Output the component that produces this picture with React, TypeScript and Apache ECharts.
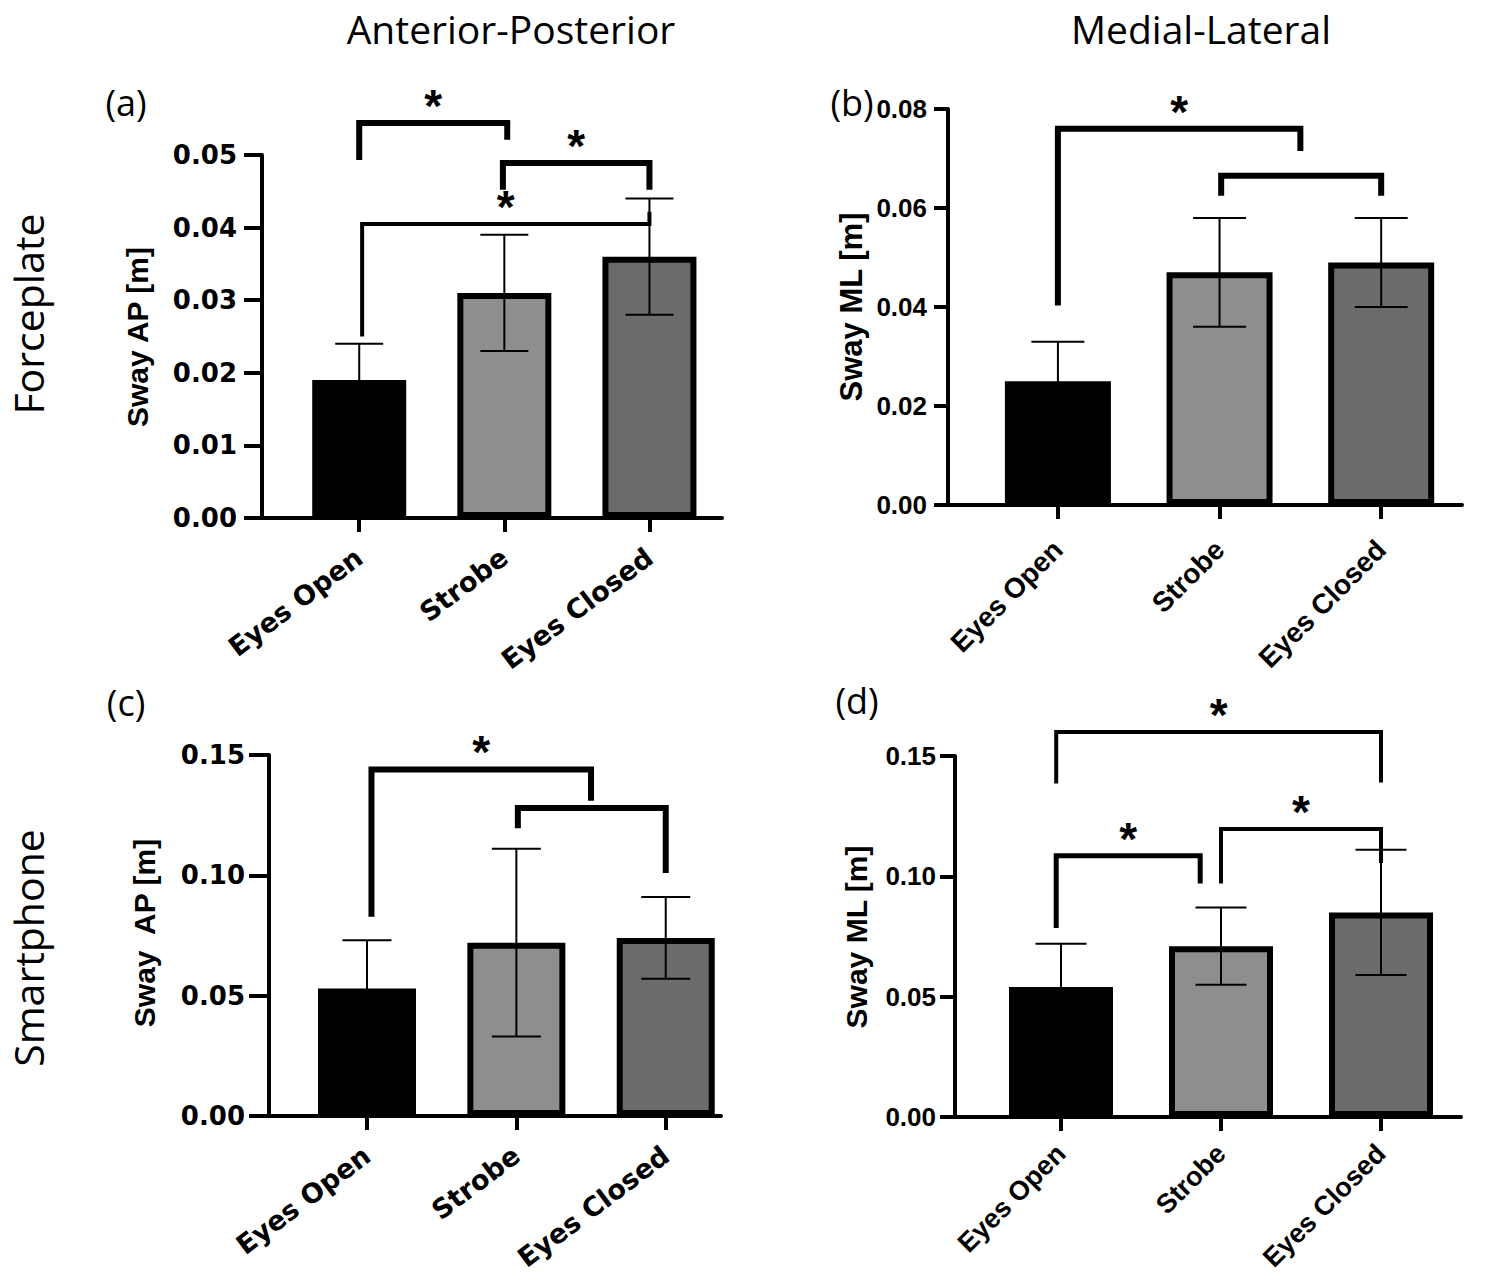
import React, { useEffect, useRef } from 'react';
import * as echarts from 'echarts';

// ---------- data ----------
const categories = ['Eyes Open', 'Strobe', 'Eyes Closed'];

const apForceMean = [0.019, 0.031, 0.036];
const apForceLow = [0.014, 0.023, 0.028];
const apForceHigh = [0.024, 0.039, 0.044];

const mlForceMean = [0.025, 0.047, 0.049];
const mlForceLow = [0.017, 0.036, 0.04];
const mlForceHigh = [0.033, 0.058, 0.058];

const apPhoneMean = [0.053, 0.072, 0.074];
const apPhoneLow = [0.033, 0.033, 0.057];
const apPhoneHigh = [0.073, 0.111, 0.091];

const mlPhoneMean = [0.054, 0.071, 0.085];
const mlPhoneLow = [0.036, 0.055, 0.059];
const mlPhoneHigh = [0.072, 0.087, 0.111];

// brackets: [xLeft, xRight, yTop, yLeftEnd, yRightEnd, star(1/0)]
const apForceBrackets = [
  [0, 1.02, 0.0544, 0.0493, 0.0521, 1],
  [0.99, 2.0, 0.0489, 0.0452, 0.0452, 1],
  [0.02, 2.0, 0.0405, 0.025, 0.0422, 1],
];
const mlForceBrackets = [
  [0, 1.5, 0.076, 0.0403, 0.0715, 1],
  [1.01, 2.0, 0.0665, 0.0625, 0.0625, 0],
];
const apPhoneBrackets = [
  [0.03, 1.5, 0.144, 0.0828, 0.131, 1],
  [1.01, 2.0, 0.128, 0.1196, 0.101, 0],
];
const mlPhoneBrackets = [
  [-0.03, 2.0, 0.16, 0.1386, 0.139, 1],
  [-0.03, 0.87, 0.1086, 0.0785, 0.097, 1],
  [1.0, 2.0, 0.1197, 0.097, 0.1055, 1],
];

// ---------- styling / layout ----------
const fills = ['#000000', '#8e8e8e', '#6b6b6b'];

const panels = [
  {
    mean: apForceMean, low: apForceLow, high: apForceHigh, brackets: apForceBrackets,
    yMax: 0.05, yInterval: 0.01,
    grid: { left: 262, top: 155, width: 460, height: 363 },
    xMin: -0.67, xMax: 2.5, barWidth: 94, cap: 48, tickLen: 18, labelMargin: 25,
    tickFamily: 'DejaVu Sans', tickSize: 26, catFamily: 'DejaVu Sans', catSize: 27, catRotate: 37, catMargin: 36,
    bracketWidths: [6, 6, 4],
  },
  {
    mean: mlForceMean, low: mlForceLow, high: mlForceHigh, brackets: mlForceBrackets,
    yMax: 0.08, yInterval: 0.02,
    grid: { left: 948, top: 109, width: 514, height: 396 },
    xMin: -0.68, xMax: 2.5, barWidth: 106, cap: 53, tickLen: 14, labelMargin: 21,
    tickFamily: 'Liberation Sans', tickSize: 26, catFamily: 'Liberation Sans', catSize: 28, catRotate: 45, catMargin: 40,
    bracketWidths: [6, 6],
  },
  {
    mean: apPhoneMean, low: apPhoneLow, high: apPhoneHigh, brackets: apPhoneBrackets,
    yMax: 0.15, yInterval: 0.05,
    grid: { left: 269, top: 755, width: 452, height: 361 },
    xMin: -0.656, xMax: 2.37, barWidth: 98, cap: 49, tickLen: 20, labelMargin: 24,
    tickFamily: 'DejaVu Sans', tickSize: 26, catFamily: 'DejaVu Sans', catSize: 27, catRotate: 37, catMargin: 36,
    bracketWidths: [6, 6],
  },
  {
    mean: mlPhoneMean, low: mlPhoneLow, high: mlPhoneHigh, brackets: mlPhoneBrackets,
    yMax: 0.15, yInterval: 0.05,
    grid: { left: 955, top: 756, width: 506, height: 361 },
    xMin: -0.6625, xMax: 2.5, barWidth: 104, cap: 51, tickLen: 15, labelMargin: 19,
    tickFamily: 'Liberation Sans', tickSize: 26, catFamily: 'Liberation Sans', catSize: 27, catRotate: 45, catMargin: 32,
    bracketWidths: [4, 5, 4],
  },
];

const texts = [
  { t: 'Anterior-Posterior', x: 511, y: 28, size: 39, rot: 0, bold: false, fam: 'Open Sans' },
  { t: 'Medial-Lateral', x: 1201, y: 28, size: 39, rot: 0, bold: false, fam: 'Open Sans' },
  { t: 'Forceplate', x: 28, y: 314, size: 41, rot: 90, bold: false, fam: 'Open Sans' },
  { t: 'Smartphone', x: 28, y: 948, size: 41, rot: 90, bold: false, fam: 'Open Sans' },
  { t: '(a)', x: 126, y: 102, size: 36, rot: 0, bold: false, fam: 'Open Sans' },
  { t: '(b)', x: 852, y: 102, size: 36, rot: 0, bold: false, fam: 'Open Sans' },
  { t: '(c)', x: 126, y: 702, size: 36, rot: 0, bold: false, fam: 'Open Sans' },
  { t: '(d)', x: 857, y: 700, size: 36, rot: 0, bold: false, fam: 'Open Sans' },
  { t: 'Sway AP [m]', x: 137, y: 337, size: 30, rot: 90, bold: true, fam: 'Liberation Sans' },
  { t: 'Sway ML [m]', x: 851, y: 307, size: 31, rot: 90, bold: true, fam: 'Liberation Sans' },
  { t: 'Sway  AP [m]', x: 144, y: 933, size: 30, rot: 90, bold: true, fam: 'Liberation Sans' },
  { t: 'Sway ML [m]', x: 856, y: 937, size: 30, rot: 90, bold: true, fam: 'Liberation Sans' },
];

function buildOption() {
  const grid: any[] = [];
  const xAxis: any[] = [];
  const yAxis: any[] = [];
  const series: any[] = [];

  panels.forEach((p, i) => {
    grid.push({ ...p.grid, containLabel: false, outerBoundsMode: 'none' });
    xAxis.push({
      gridIndex: i,
      type: 'value',
      min: p.xMin,
      max: p.xMax,
      splitLine: { show: false },
      axisLine: { show: true, onZero: false, lineStyle: { color: '#000', width: 4 } },
      axisTick: { show: true, customValues: [0, 1, 2], length: 14, lineStyle: { color: '#000', width: 4 } },
      axisLabel: {
        show: true,
        customValues: [0, 1, 2],
        formatter: (v: number) => categories[Math.round(v)] ?? '',
        rotate: p.catRotate,
        margin: p.catMargin,
        fontSize: p.catSize,
        fontFamily: p.catFamily,
        fontWeight: 'bold',
        color: '#000',
      },
    });
    yAxis.push({
      gridIndex: i,
      type: 'value',
      min: 0,
      max: p.yMax,
      interval: p.yInterval,
      splitLine: { show: false },
      axisLine: { show: true, onZero: false, lineStyle: { color: '#000', width: 4 } },
      axisTick: { show: true, length: p.tickLen, lineStyle: { color: '#000', width: 4 } },
      axisLabel: {
        formatter: (v: number) => v.toFixed(2),
        margin: p.labelMargin,
        fontSize: p.tickSize,
        fontFamily: p.tickFamily,
        fontWeight: 'bold',
        color: '#000',
      },
    });

    series.push({
      type: 'bar',
      xAxisIndex: i,
      yAxisIndex: i,
      barWidth: p.barWidth,
      data: p.mean.map((v, j) => ({
        value: [j, v],
        itemStyle: { color: fills[j], borderColor: '#000', borderWidth: 6 },
      })),
      z: 2,
    });

    const cap = p.cap;
    series.push({
      type: 'custom',
      xAxisIndex: i,
      yAxisIndex: i,
      clip: false,
      z: 5,
      data: p.mean.map((_, j) => [j, p.low[j], p.high[j]]),
      renderItem: (params: any, api: any) => {
        const x = api.value(0);
        const lo = api.coord([x, api.value(1)]);
        const hi = api.coord([x, api.value(2)]);
        const st = { stroke: '#000', lineWidth: 2 };
        return {
          type: 'group',
          children: [
            { type: 'line', shape: { x1: lo[0], y1: lo[1], x2: hi[0], y2: hi[1] }, style: st },
            { type: 'line', shape: { x1: hi[0] - cap / 2, y1: hi[1], x2: hi[0] + cap / 2, y2: hi[1] }, style: st },
            { type: 'line', shape: { x1: lo[0] - cap / 2, y1: lo[1], x2: lo[0] + cap / 2, y2: lo[1] }, style: st },
          ],
        };
      },
    });

    const widths = p.bracketWidths;
    series.push({
      type: 'custom',
      xAxisIndex: i,
      yAxisIndex: i,
      clip: false,
      z: 6,
      encode: { x: [0, 1], y: [2, 3, 4] },
      data: p.brackets.map((b) => b.slice()),
      renderItem: (params: any, api: any) => {
        const xL = api.value(0);
        const xR = api.value(1);
        const yT = api.value(2);
        const pL = api.coord([xL, api.value(3)]);
        const pLT = api.coord([xL, yT]);
        const pRT = api.coord([xR, yT]);
        const pR = api.coord([xR, api.value(4)]);
        const children: any[] = [
          {
            type: 'polyline',
            shape: { points: [pL, pLT, pRT, pR] },
            style: { stroke: '#000', lineWidth: widths[params.dataIndex] || 5, fill: null, lineJoin: 'miter', lineCap: 'butt' },
          },
        ];
        if (api.value(5)) {
          children.push({
            type: 'text',
            x: (pLT[0] + pRT[0]) / 2,
            y: pLT[1] - 17,
            style: {
              text: '*',
              fontSize: 46,
              fontWeight: 'bold',
              fontFamily: 'Liberation Sans',
              fill: '#000',
              align: 'center',
              verticalAlign: 'middle',
            },
          });
        }
        return { type: 'group', children };
      },
    });
  });

  const graphic = texts.map((t) => ({
    type: 'text',
    x: t.x,
    y: t.y,
    rotation: (t.rot * Math.PI) / 180,
    style: {
      text: t.t,
      fontSize: t.size,
      fontFamily: t.fam,
      fontWeight: t.bold ? 'bold' : 'normal',
      fill: '#000',
      align: 'center',
      verticalAlign: 'middle',
    },
  }));

  return { animation: false, backgroundColor: '#fff', grid, xAxis, yAxis, series, graphic };
}

export default function App() {
  const ref = useRef<HTMLDivElement>(null);
  useEffect(() => {
    document.body.style.margin = '0';
    if (!ref.current) return;
    const chart = echarts.init(ref.current, undefined, { renderer: 'svg' });
    chart.setOption(buildOption() as any);
    return () => chart.dispose();
  }, []);
  return <div ref={ref} style={{ width: 1500, height: 1279 }} />;
}
